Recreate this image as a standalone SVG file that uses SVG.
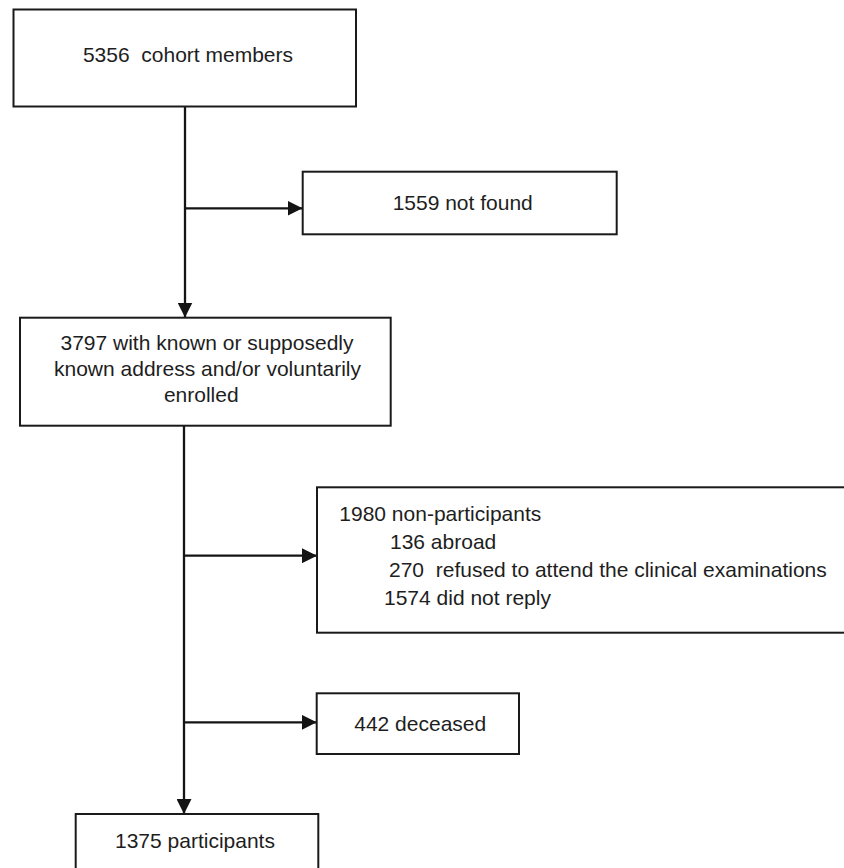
<svg xmlns="http://www.w3.org/2000/svg" width="844" height="868" viewBox="0 0 844 868">
<style>
.box{fill:#fff;stroke:#1a1a1a;stroke-width:2}
.t{font-family:"Liberation Sans",Arial,Helvetica,sans-serif;font-size:21px;fill:#1e1e1e;white-space:pre}
.c{text-anchor:middle}
.ln{fill:none;stroke:#141414;stroke-width:2.3}
</style>
<defs>
<marker id="ah" markerWidth="15" markerHeight="15" refX="15" refY="7.5" orient="auto" markerUnits="userSpaceOnUse">
<path d="M0,0 L15,7.5 L0,15 Z" fill="#141414"/>
</marker>
</defs>
<rect width="844" height="868" fill="#fff"/>
<g id="connectors">
<line class="ln" x1="185" y1="106.5" x2="185" y2="317.5" marker-end="url(#ah)"/>
<line class="ln" x1="185" y1="208.3" x2="302.5" y2="208.3" marker-end="url(#ah)"/>
<line class="ln" x1="184" y1="425.7" x2="184" y2="814" marker-end="url(#ah)"/>
<line class="ln" x1="184" y1="555.7" x2="317" y2="555.7" marker-end="url(#ah)"/>
<line class="ln" x1="184" y1="722.3" x2="316.7" y2="722.3" marker-end="url(#ah)"/>
</g>
<g id="n-cohort">
<rect class="box" x="13.5" y="9.5" width="342.5" height="97"/>
<text class="t c" x="188" y="62" xml:space="preserve">5356  cohort members</text>
</g>
<g id="n-notfound">
<rect class="box" x="302.7" y="171.7" width="314" height="62.6"/>
<text class="t c" x="462.7" y="210">1559 not found</text>
</g>
<g id="n-known">
<rect class="box" x="20" y="317.7" width="370.7" height="108"/>
<text class="t c" x="207" y="350">3797 with known or supposedly</text>
<text class="t c" x="207.5" y="375.5">known address and/or voluntarily</text>
<text class="t c" x="201.3" y="401.7">enrolled</text>
</g>
<g id="n-nonpart">
<rect class="box" x="317" y="487.3" width="540" height="145.4"/>
<text class="t" x="339.3" y="520.7">1980 non-participants</text>
<text class="t" x="390" y="549.3">136 abroad</text>
<text class="t" x="389" y="577.3" xml:space="preserve">270  refused to attend the clinical examinations</text>
<text class="t" x="384" y="605">1574 did not reply</text>
</g>
<g id="n-deceased">
<rect class="box" x="316.7" y="693.3" width="202.3" height="60.7"/>
<text class="t c" x="420.2" y="730.7">442 deceased</text>
</g>
<g id="n-participants">
<rect class="box" x="75.7" y="814" width="242.6" height="70"/>
<text class="t c" x="195" y="848.3">1375 participants</text>
</g>
</svg>
